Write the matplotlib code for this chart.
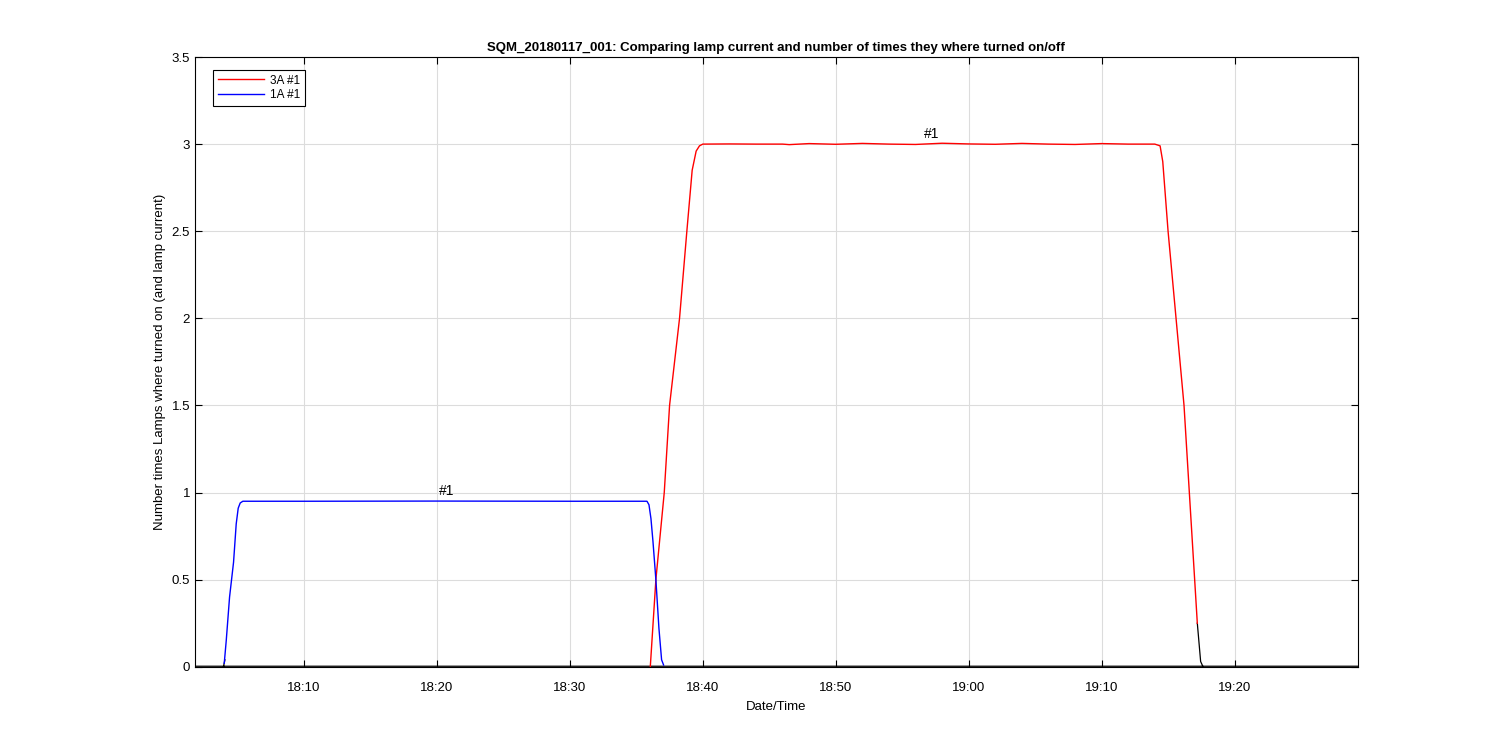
import datetime as dt
import numpy as np
import matplotlib.pyplot as plt
import matplotlib.dates as mdates

plt.rcParams['font.family'] = ['Liberation Sans', 'DejaVu Sans']
plt.rcParams['font.size'] = 9

base = dt.datetime(2018, 1, 17, 18, 0)

# minutes after 18:00 and values
blue_min = [4.0, 4.15, 4.4, 4.7, 4.9, 5.05, 5.2, 5.4, 5.7, 10, 20, 30, 35.8, 35.95, 36.1, 36.25, 36.47, 36.7, 36.9, 37.05]
blue_val = [0.02, 0.15, 0.4, 0.6, 0.82, 0.91, 0.94, 0.95, 0.95, 0.95, 0.951, 0.95, 0.95, 0.93, 0.85, 0.72, 0.5, 0.22, 0.04, 0.01]

red_min = [36.05, 36.47, 37.1, 37.5, 38.25, 38.8, 39.2, 39.5, 39.75, 40.0, 42, 44, 46, 46.5, 48, 50, 52, 54, 56, 58,
           60, 62, 64, 66, 68, 70, 72, 74.0, 74.4, 74.6, 75.0, 75.6, 76.2, 76.6, 77.0, 77.2]
red_val = [0.0, 0.5, 1.0, 1.5, 2.0, 2.5, 2.85, 2.96, 2.99, 3.0, 3.001, 3.0, 3.0, 2.997, 3.003, 2.999, 3.004, 3.0, 2.998,
           3.005, 3.001, 2.999, 3.004, 3.0, 2.998, 3.003, 3.0, 3.0, 2.99, 2.9, 2.5, 2.0, 1.5, 1.0, 0.5, 0.25]

# black "off" traces: baseline and the tails of the ramps
off_min = [1.0, 90.0, np.nan, 77.2, 77.45, 77.6, np.nan, 3.95, 4.05]
off_val = [0.003, 0.003, np.nan, 0.25, 0.03, 0.005, np.nan, 0.003, 0.04]

label_min = [20.75, 57.2]
label_val = [0.95, 3.0]
label_txt = ['#1', '#1']

def to_num(mins):
    return [mdates.date2num(base + dt.timedelta(minutes=m)) if not np.isnan(m) else np.nan for m in mins]

fig = plt.figure(figsize=(15, 7.5), dpi=100)
ax = fig.add_axes([0.13, 0.111, 0.775, 0.813])

ax.plot(to_num(off_min), off_val, color='k', lw=0.9, zorder=2)
ax.plot(to_num(red_min), red_val, color='r', lw=1.0, label='3A #1', zorder=3)
ax.plot(to_num(blue_min), blue_val, color='b', lw=1.0, label='1A #1', zorder=3)
ax.xaxis_date()

for m, v, s in zip(label_min, label_val, label_txt):
    ax.text(to_num([m])[0], v + 0.02, s, ha='center', va='bottom', fontsize=10)

ax.set_xlim(to_num([1.8])[0], to_num([89.25])[0])
ax.set_ylim(0, 3.5)
ax.set_yticks(np.arange(0, 3.51, 0.5))
ax.set_yticklabels(['0', '0.5', '1', '1.5', '2', '2.5', '3', '3.5'])
ax.xaxis.set_major_locator(mdates.MinuteLocator(byminute=range(0, 60, 10)))
ax.xaxis.set_major_formatter(mdates.DateFormatter('%H:%M'))

ax.grid(True, color='#dcdcdc', lw=0.8)
ax.set_axisbelow(True)
ax.tick_params(direction='in', top=True, right=True, length=5, width=0.8, labelsize=9.5)
ax.tick_params(axis='x', pad=11)
for sp in ax.spines.values():
    sp.set_linewidth(0.8)

ax.set_xlabel('Date/Time', fontsize=9.5, labelpad=5)
ax.set_ylabel('Number times Lamps where turned on (and lamp current)', fontsize=9.5)
ax.set_title('SQM_20180117_001: Comparing lamp current and number of times they where turned on/off',
             fontsize=9.5, fontweight='bold', pad=4)

leg = ax.legend(loc='upper left', bbox_to_anchor=(0.0155, 0.979), fancybox=False, edgecolor='k',
                framealpha=1, handlelength=3.9, fontsize=8.5, borderpad=0.4, labelspacing=0.25,
                handletextpad=0.5, borderaxespad=0)
leg.get_frame().set_linewidth(0.8)

fig.savefig('out.png', dpi=100)
